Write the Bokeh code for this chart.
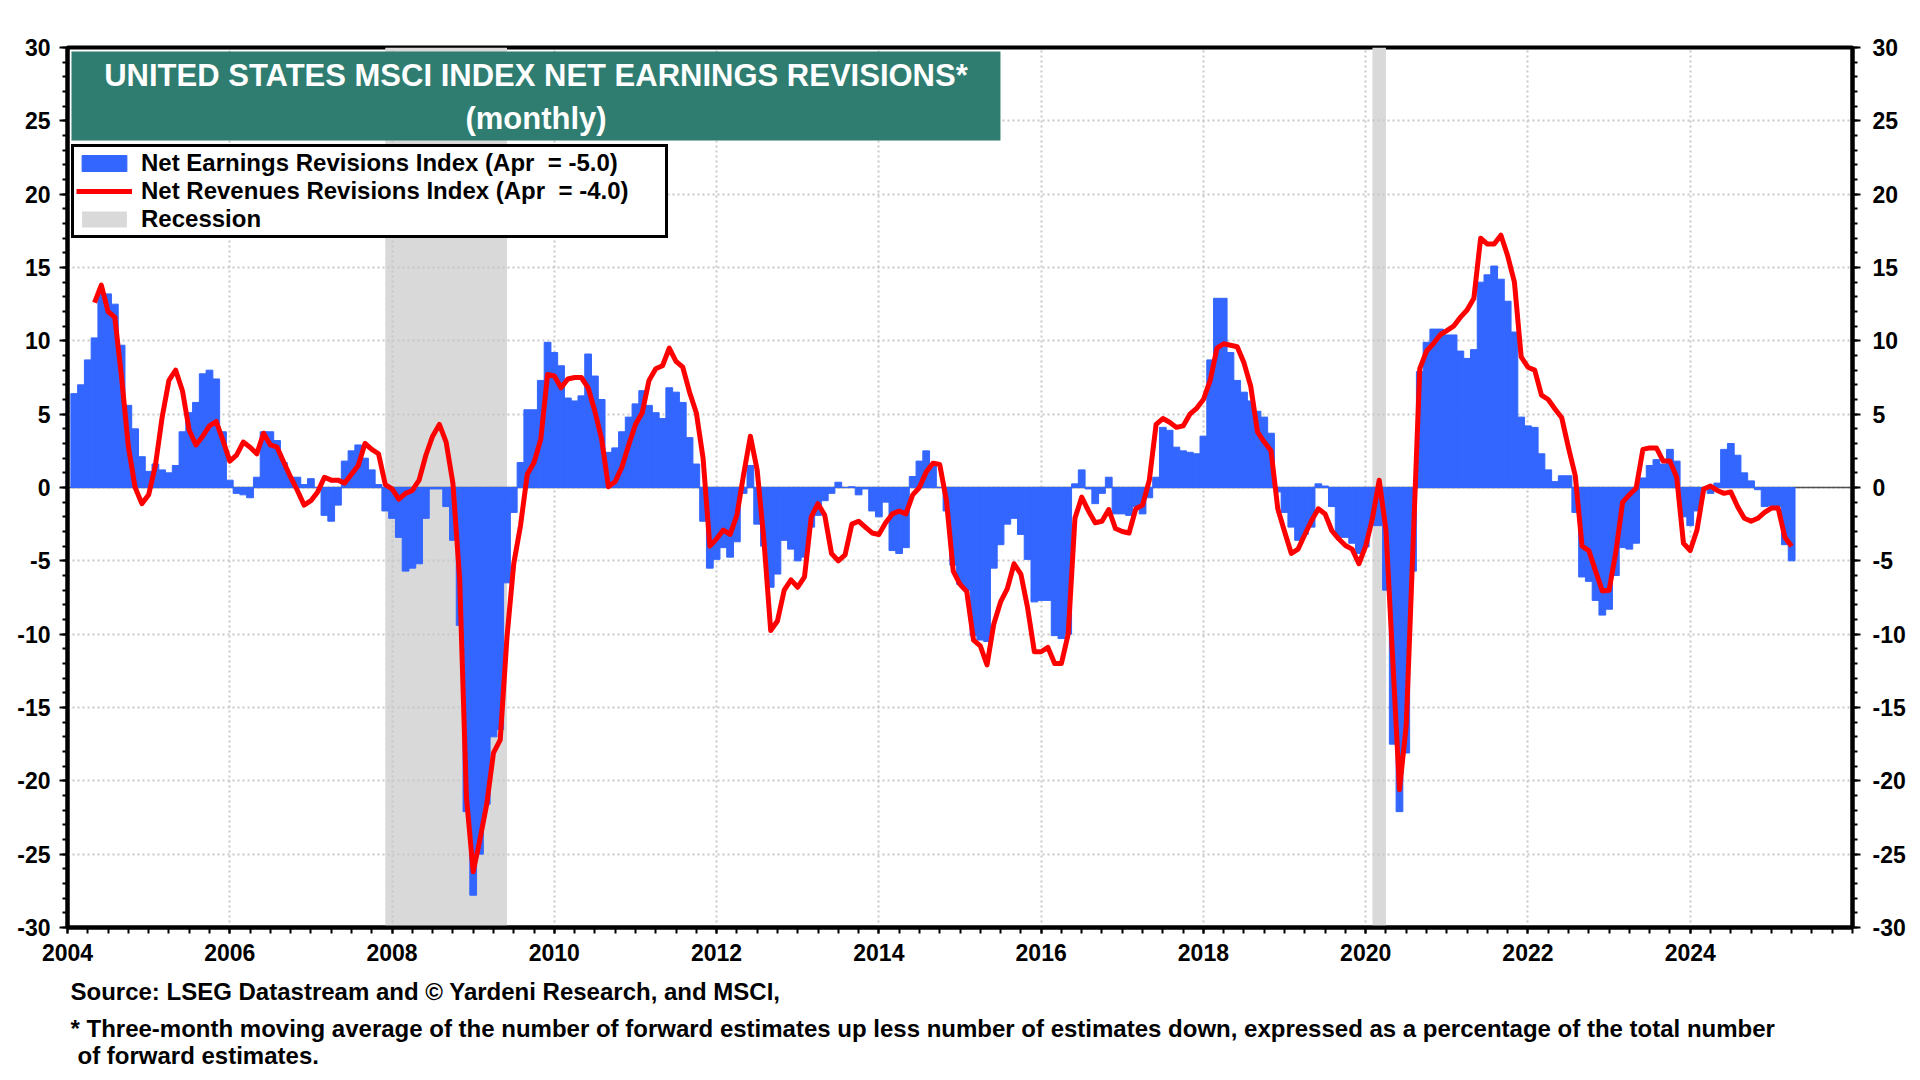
import numpy as np
import pandas as pd
from bokeh.plotting import figure
from bokeh.models import (Range1d, LinearAxis, FixedTicker, BoxAnnotation, Label,
                          Legend, LegendItem, Span, Title, ColumnDataSource,
                          CustomJSTickFormatter)
from bokeh.embed import file_html
from bokeh.resources import INLINE

# ---------------- data ----------------
first_month = "2004-02-01"   # first monthly observation (last one: Apr 2025)

net_earnings = [
    6.4, 7.0, 8.7, 10.2, 13.3, 13.2, 12.5, 9.7, 5.6, 4.0, 2.1,            # 2004 Feb-Dec
    1.1, 1.6, 1.2, 1.0, 1.5, 3.8, 5.1, 5.8, 7.75, 8.0, 7.4, 3.8,          # 2005
    0.5, -0.4, -0.5, -0.7, 0.7, 3.8, 3.8, 3.2, 1.7, 0.7, 0.7, 0.2,        # 2006
    0.6, 0.0, -1.9, -2.3, -1.2, 1.8, 2.5, 2.9, 2.0, 1.2, 0.2, -1.6,       # 2007
    -2.1, -3.4, -5.7, -5.5, -5.2, -2.1, -0.1, -0.1, -1.3, -3.6, -9.4, -22.1,  # 2008
    -27.8, -25.0, -21.6, -17.0, -16.5, -6.5, -1.7, 1.7, 5.3, 5.3, 7.3, 9.9,   # 2009
    9.2, 8.3, 6.1, 5.9, 6.25, 9.1, 7.6, 6.0, 2.4, 2.7, 3.8, 4.8,          # 2010
    5.7, 6.6, 5.6, 5.1, 4.7, 6.8, 6.5, 5.8, 3.4, 1.6, -2.3, -5.5,         # 2011
    -4.9, -4.1, -4.75, -3.7, -0.4, 1.5, -2.5, -4.0, -6.8, -5.9, -3.6, -4.2,   # 2012
    -5.0, -4.75, -2.7, -1.9, -0.9, -0.4, 0.36, 0.0, 0.05, -0.5, -0.1, -1.6,   # 2013
    -2.0, -1.0, -4.3, -4.5, -4.1, 0.75, 1.8, 2.5, 1.5, 0.0, -1.6, -5.3,   # 2014
    -6.6, -7.0, -10.1, -10.4, -10.5, -5.5, -3.9, -2.5, -2.1, -3.2, -4.9, -7.8,  # 2015
    -7.7, -7.7, -10.1, -10.3, -10.0, 0.25, 1.2, -0.1, -1.1, -0.4, 0.7, -1.8,    # 2016
    -1.8, -1.9, -1.3, -1.8, -0.7, 0.7, 4.1, 3.9, 2.75, 2.5, 2.4, 2.3,     # 2017
    3.5, 8.7, 12.9, 12.9, 9.2, 7.3, 6.5, 5.9, 5.2, 4.8, 3.7, -0.3,        # 2018
    -1.7, -2.7, -3.6, -3.2, -2.7, 0.25, 0.1, -1.3, -3.4, -3.4, -3.8, -4.5,      # 2019
    -4.05, -2.6, -2.6, -7.0, -17.5, -22.1, -18.1, -5.7, 7.9, 9.9, 10.8, 10.8,  # 2020
    10.4, 10.4, 9.3, 8.8, 9.4, 14.0, 14.5, 15.1, 14.2, 12.7, 10.6, 4.8,   # 2021
    4.2, 4.1, 2.3, 1.2, 0.4, 0.8, 0.8, -1.7, -6.1, -6.4, -7.7, -8.7,      # 2022
    -8.3, -6.0, -4.1, -4.2, -3.8, 0.65, 1.5, 1.9, 1.6, 2.6, 1.8, -2.0,    # 2023
    -2.6, -1.6, -0.1, -0.4, 0.3, 2.6, 3.0, 2.2, 1.0, 0.45, -0.15, -1.3,   # 2024
    -1.25, -1.3, -3.9, -5.0,                                              # 2025
]

nan = float("nan")
net_revenues = [
    nan, nan, nan, 12.6, 13.8, 12.0, 11.6, 7.5, 2.8, 0.0, -1.1,           # 2004 Feb-Dec
    -0.5, 1.5, 4.8, 7.3, 8.0, 6.6, 3.9, 2.9, 3.5, 4.2, 4.5, 3.2,          # 2005
    1.8, 2.2, 3.1, 2.75, 2.3, 3.7, 2.9, 2.75, 1.7, 0.7, -0.2, -1.2,       # 2006
    -0.9, -0.3, 0.7, 0.5, 0.5, 0.3, 0.9, 1.5, 3.0, 2.6, 2.3, 0.2,         # 2007
    -0.1, -0.8, -0.4, -0.2, 0.5, 2.2, 3.5, 4.3, 3.1, 0.3, -6.25, -21.1,   # 2008
    -26.2, -24.0, -21.6, -18.1, -17.2, -10.2, -5.2, -2.6, 0.9, 1.7, 3.3, 7.7,  # 2009
    7.6, 6.8, 7.4, 7.5, 7.5, 6.8, 5.2, 3.3, 0.05, 0.4, 1.4, 2.9,          # 2010
    4.3, 5.1, 7.3, 8.1, 8.3, 9.5, 8.6, 8.2, 6.5, 5.1, 2.0, -4.0,          # 2011
    -3.5, -2.9, -3.2, -1.9, 0.9, 3.5, 1.2, -3.6, -9.75, -9.1, -7.0, -6.3, # 2012
    -6.8, -6.1, -2.0, -1.1, -1.9, -4.5, -5.0, -4.6, -2.5, -2.3, -2.7, -3.1,    # 2013
    -3.2, -2.4, -1.8, -1.6, -1.8, -0.5, 0.0, 1.05, 1.66, 1.57, -0.9, -5.7,     # 2014
    -6.6, -7.1, -10.4, -10.8, -12.1, -9.3, -7.8, -6.9, -5.2, -5.9, -8.2, -11.2,  # 2015
    -11.2, -10.9, -12.0, -12.0, -10.0, -2.1, -0.66, -1.6, -2.4, -2.3, -1.5, -2.8,  # 2016
    -3.0, -3.1, -1.45, -1.2, 0.5, 4.3, 4.7, 4.45, 4.1, 4.2, 5.0, 5.4,     # 2017
    6.0, 7.3, 9.5, 9.8, 9.7, 9.6, 8.5, 6.9, 3.8, 3.1, 2.5, -1.45,         # 2018
    -3.0, -4.5, -4.2, -3.2, -2.25, -1.45, -1.8, -2.95, -3.5, -3.95, -4.2, -5.2,  # 2019
    -4.0, -2.1, 0.5, -2.9, -11.7, -20.6, -16.2, -4.0, 8.1, 9.3, 9.8, 10.4,      # 2020
    10.7, 11.0, 11.6, 12.1, 12.9, 17.0, 16.6, 16.6, 17.2, 15.8, 14.0, 8.9,      # 2021
    8.2, 8.0, 6.3, 6.0, 5.35, 4.75, 2.7, 0.8, -4.0, -4.3, -5.7, -7.05,    # 2022
    -7.0, -4.4, -1.0, -0.5, -0.05, 2.6, 2.7, 2.7, 1.8, 1.8, 0.7, -3.8,    # 2023
    -4.3, -2.9, -0.1, 0.1, -0.2, -0.4, -0.3, -1.3, -2.1, -2.3, -2.1, -1.7,      # 2024
    -1.4, -1.4, -3.4, -4.0,                                               # 2025
]

recession_start = ["2007-12-01", "2020-02-01"]
recession_end = ["2009-06-01", "2020-04-01"]

y_ticks = list(range(-30, 31, 5))
y_grid = list(range(-25, 30, 5))
x_tick_years = list(range(2004, 2025, 2))
x_grid_years = list(range(2006, 2026, 2))

title_lines = ["UNITED STATES MSCI INDEX NET EARNINGS REVISIONS*", "(monthly)"]
legend_labels = ["Net Earnings Revisions Index (Apr  = -5.0)",
                 "Net Revenues Revisions Index (Apr  = -4.0)",
                 "Recession"]
footer_lines = [
    "Source: LSEG Datastream and \u00a9 Yardeni Research, and MSCI,",
    "* Three-month moving average of the number of forward estimates up less number of estimates down, expressed as a percentage of the total number",
    "of forward estimates.",
]

# ---------------- helpers ----------------
def dec_year(ts):
    ts = pd.DatetimeIndex(ts)
    return np.asarray(ts.year + (ts.month - 1) / 12.0 + (ts.day - 1) / 365.0, dtype=float)

months = pd.date_range(first_month, periods=len(net_earnings), freq="MS")
xs = dec_year(months)

FONT = "Liberation Sans"
BLUE = "#3366FF"
RED = "#FF0000"
TEAL = "#2E7D70"
GREY_BAND = "#D9D9D9"

X0, X1 = 2004.0, 2026.0
Y0, Y1 = -30.0, 30.0

p = figure(frame_width=1785, frame_height=880,
           x_range=Range1d(X0, X1), y_range=Range1d(Y0, Y1),
           output_backend="svg", toolbar_location=None,
           min_border_left=67, min_border_right=60, min_border_top=47, min_border_bottom=5,
           background_fill_color="white", border_fill_color="white")
p.outline_line_color = "black"
p.outline_line_width = 4

fmt = CustomJSTickFormatter(code="return tick.toFixed(0);")

# x axis
xa = p.xaxis[0]
xa.ticker = FixedTicker(ticks=x_tick_years, minor_ticks=[X0 + q / 4 for q in range(0, 89)])
xa.formatter = fmt
# y axis left
ya = p.yaxis[0]
ya.ticker = FixedTicker(ticks=y_ticks, minor_ticks=list(range(-30, 31)))
ya.formatter = fmt
# right axis
yr = LinearAxis(ticker=FixedTicker(ticks=y_ticks, minor_ticks=list(range(-30, 31))), formatter=fmt)
p.add_layout(yr, "right")

for ax in (xa, ya, yr):
    ax.axis_line_color = "black"
    ax.axis_line_width = 4
    ax.major_tick_line_color = "black"
    ax.minor_tick_line_color = "black"
    ax.major_tick_line_width = 2
    ax.minor_tick_line_width = 2
    ax.major_tick_in = 0
    ax.minor_tick_in = 0
    ax.major_label_text_font = FONT
    ax.major_label_text_font_style = "bold"
    ax.major_label_text_font_size = "23px"
    ax.major_label_text_color = "black"
xa.major_tick_out = 6
xa.minor_tick_out = 6
xa.major_label_standoff = 10
ya.major_tick_out = 8
ya.minor_tick_out = 5
ya.major_label_standoff = 9
yr.major_tick_out = 8
yr.minor_tick_out = 5
yr.major_label_standoff = 12

p.xgrid.ticker = FixedTicker(ticks=x_grid_years)
p.ygrid.ticker = FixedTicker(ticks=y_grid)
for g in (p.xgrid[0], p.ygrid[0]):
    g.grid_line_color = "#C8C8C8"
    g.grid_line_dash = "2 3"
    g.grid_line_width = 2

# recession bands (lowest level so the dotted grid shows on top)
rec = p.quad(left=dec_year(recession_start), right=dec_year(recession_end),
             bottom=Y0, top=Y1, fill_color=GREY_BAND, line_color=None, level="image")

zero = Span(location=0, dimension="width", line_color="#505050", line_width=1.5, level="underlay")
p.add_layout(zero)

src = ColumnDataSource(dict(x=xs, e=net_earnings, r=net_revenues))
bars = p.vbar(x="x", top="e", bottom=0, width=1 / 12, source=src,
              fill_color=BLUE, line_color=BLUE, line_width=1)
line = p.line(x="x", y="r", source=src, line_color=RED, line_width=5, line_join="round")

# title box
tb_left, tb_right = X0 + 4 / 81.14, X0 + 933 / 81.14
tb_top, tb_bot = Y1 - 4 / 14.667, Y1 - 93 / 14.667
p.add_layout(BoxAnnotation(left=tb_left, right=tb_right, top=tb_top, bottom=tb_bot,
                           fill_color=TEAL, fill_alpha=1.0, line_color=None))
tx = (tb_left + tb_right) / 2
for txt, yy in zip(title_lines, [Y1 - 28 / 14.667, Y1 - 71 / 14.667]):
    p.add_layout(Label(x=tx, y=yy, text=txt, text_align="center", text_baseline="middle",
                       text_color="white", text_font=FONT, text_font_style="bold",
                       text_font_size="31px"))

legend = Legend(items=[LegendItem(label=legend_labels[0], renderers=[bars]),
                       LegendItem(label=legend_labels[1], renderers=[line]),
                       LegendItem(label=legend_labels[2], renderers=[rec])],
                location=(4, 689), orientation="vertical")
legend.border_line_color = "black"
legend.border_line_width = 3
legend.border_line_alpha = 1.0
legend.background_fill_color = "white"
legend.background_fill_alpha = 1.0
legend.label_text_font = FONT
legend.label_text_font_style = "bold"
legend.label_text_font_size = "24px"
legend.label_text_color = "black"
legend.glyph_width = 56
legend.glyph_height = 20
legend.label_standoff = 9
legend.label_height = 25
legend.label_width = 522
legend.padding = 2
legend.spacing = 0
legend.margin = 0
p.add_layout(legend, "center")

# footer
for txt, sto, off in zip(footer_lines, [25, -9, 5], [3, 3, 10]):
    t = Title(text=txt, align="left", offset=off, text_font=FONT, text_font_style="bold",
              text_font_size="24px", text_color="black", standoff=sto)
    p.add_layout(t, "below")

open("out.html", "w").write(file_html(p, INLINE))
